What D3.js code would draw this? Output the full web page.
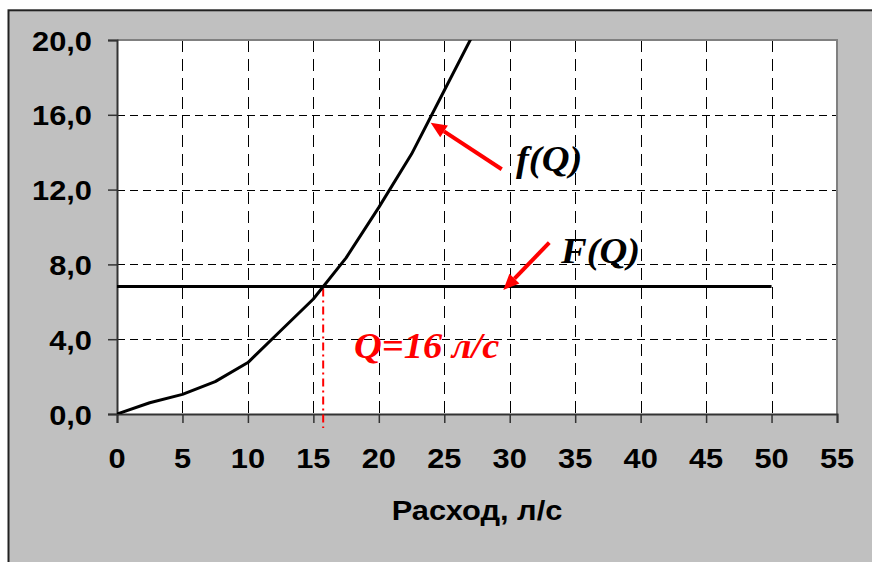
<!DOCTYPE html>
<html><head><meta charset="utf-8">
<script src="https://cdn.jsdelivr.net/npm/d3@7/dist/d3.min.js"></script>
<style>html,body{margin:0;padding:0;background:#fff;}svg{display:block;}</style>
</head><body><svg id="chart" width="872" height="562"></svg>
<script>
// ---- data ----
const flowQ   = [0, 2.5, 5, 7.5, 10, 12.5, 15, 17.5, 20, 22.5, 25, 27.5];
const fValues = [0, 0.6, 1.05, 1.73, 2.75, 4.45, 6.15, 8.35, 11.05, 13.9, 17.3, 20.7];
const FQ      = [0, 50];
const FValues = [6.82, 6.82];
const qStar = 15.75;
const xTicks = [0, 5, 10, 15, 20, 25, 30, 35, 40, 45, 50, 55];
const yTicks = [0, 4, 8, 12, 16, 20];
const yTickLabels = ["0,0", "4,0", "8,0", "12,0", "16,0", "20,0"];
const xTitle = "Расход, л/с";
const labelF1 = "f(Q)", labelF2 = "F(Q)", labelQ = "Q=16 л/с";
// annotation arrows [tailQ, tailV, headQ, headV]
const arrowF1 = [29.39, 13.09, 23.96, 15.58];
const arrowF2 = [33.02, 9.16, 29.51, 6.63];

const svg = d3.select("#chart");
const L = 117, R = 837, T = 40, B = 414;
const x = d3.scaleLinear().domain([0, 55]).range([L, R]);
const y = d3.scaleLinear().domain([0, 20]).range([B, T]);
const SX = 1.1;
const sans = "'Liberation Sans', Arial, sans-serif";
const serif = "'Liberation Serif', 'Times New Roman', serif";

// outer panel
svg.append("rect").attr("x", 8.5).attr("y", 10.3).attr("width", 900).attr("height", 600)
  .attr("fill", "#c0c0c0").attr("stroke", "#222").attr("stroke-width", 2);

// plot area
svg.append("rect").attr("x", L).attr("y", T).attr("width", R - L).attr("height", B - T).attr("fill", "#fff");

// clip
svg.append("defs").append("clipPath").attr("id", "clip")
  .append("rect").attr("x", L).attr("y", T).attr("width", R - L).attr("height", B - T);

// grid
const grid = svg.append("g");
grid.selectAll("line.v").data(xTicks.filter(d => d > 0 && d < 55)).enter().append("line")
  .attr("x1", d => Math.round(x(d)) + 0.5).attr("x2", d => Math.round(x(d)) + 0.5)
  .attr("y1", T).attr("y2", B).attr("stroke", "#000").attr("stroke-width", 1)
  .attr("stroke-dasharray", "12,7");
grid.selectAll("line.h").data(yTicks.filter(d => d > 0 && d < 20)).enter().append("line")
  .attr("y1", d => Math.round(y(d)) + 0.5).attr("y2", d => Math.round(y(d)) + 0.5)
  .attr("x1", L).attr("x2", R).attr("stroke", "#000").attr("stroke-width", 1)
  .attr("stroke-dasharray", "8,5");

// top/right border gray
svg.append("line").attr("x1", L).attr("x2", R + 1).attr("y1", T).attr("y2", T).attr("stroke", "#808080").attr("stroke-width", 2);
svg.append("line").attr("x1", R).attr("x2", R).attr("y1", T).attr("y2", B).attr("stroke", "#808080").attr("stroke-width", 2);

// axes
const xAxis = d3.axisBottom(x).tickValues(xTicks).tickSize(9).tickFormat("");
const yAxis = d3.axisLeft(y).tickValues(yTicks).tickSize(9).tickFormat("");
const gx = svg.append("g").attr("transform", `translate(0,${B})`).call(xAxis);
const gy = svg.append("g").attr("transform", `translate(${L},0)`).call(yAxis);
[gx, gy].forEach(g => {
  g.select(".domain").attr("stroke", "#333").attr("stroke-width", 2);
  g.selectAll(".tick line").attr("stroke", "#333").attr("stroke-width", 1.5);
});

// tick labels
svg.append("g").selectAll("text").data(xTicks).enter().append("text")
  .attr("transform", d => `translate(${x(d)},${B + 54}) scale(${SX},1)`)
  .attr("text-anchor", "middle").attr("font-family", sans).attr("font-weight", "bold")
  .attr("font-size", 28).attr("fill", "#000").text(d => d);
svg.append("g").selectAll("text").data(yTicks).enter().append("text")
  .attr("transform", d => `translate(92,${y(d) + 10.5}) scale(${SX},1)`)
  .attr("text-anchor", "end").attr("font-family", sans).attr("font-weight", "bold")
  .attr("font-size", 28).attr("fill", "#000").text((d, i) => yTickLabels[i]);

// axis title
svg.append("text").attr("transform", `translate(${(L + R) / 2},520) scale(${SX},1)`)
  .attr("text-anchor", "middle").attr("font-family", sans).attr("font-weight", "bold")
  .attr("font-size", 28).attr("fill", "#000").text(xTitle);

// red dash-dot line
svg.append("line").attr("x1", x(qStar)).attr("x2", x(qStar))
  .attr("y1", y(FValues[0]) + 2).attr("y2", y(0) + 14)
  .attr("stroke", "#ff0000").attr("stroke-width", 2).attr("stroke-dasharray", "8,4,2,4");

// series
const line = d3.line().x(d => x(d[0])).y(d => y(d[1]));
svg.append("path").attr("clip-path", "url(#clip)")
  .attr("d", line(flowQ.map((q, i) => [q, fValues[i]])))
  .attr("fill", "none").attr("stroke", "#000").attr("stroke-width", 3).attr("stroke-linejoin", "round");
svg.append("path")
  .attr("d", line(FQ.map((q, i) => [q, FValues[i]])))
  .attr("fill", "none").attr("stroke", "#000").attr("stroke-width", 3);

// arrows
function arrow(a) {
  const x0 = x(a[0]), y0 = y(a[1]), x1 = x(a[2]), y1 = y(a[3]);
  const ang = Math.atan2(y1 - y0, x1 - x0);
  const hl = 16, hw = 7;
  const bx = x1 - hl * Math.cos(ang), by = y1 - hl * Math.sin(ang);
  svg.append("line").attr("x1", x0).attr("y1", y0).attr("x2", bx).attr("y2", by)
    .attr("stroke", "#ff0000").attr("stroke-width", 4);
  const px = -Math.sin(ang) * hw, py = Math.cos(ang) * hw;
  svg.append("path").attr("d", `M${x1},${y1}L${bx + px},${by + py}L${bx - px},${by - py}Z`).attr("fill", "#ff0000");
}
arrow(arrowF1);
arrow(arrowF2);

// labels
svg.append("text").attr("transform", `translate(516,171) scale(${SX},1)`)
  .attr("font-family", serif).attr("font-weight", "bold").attr("font-style", "italic")
  .attr("font-size", 35).attr("fill", "#000").text(labelF1);
svg.append("text").attr("transform", `translate(561,263) scale(${SX},1)`)
  .attr("font-family", serif).attr("font-weight", "bold").attr("font-style", "italic")
  .attr("font-size", 35).attr("fill", "#000").text(labelF2);
svg.append("text").attr("transform", `translate(354,358) scale(${SX},1)`)
  .attr("font-family", serif).attr("font-weight", "bold").attr("font-style", "italic")
  .attr("font-size", 35).attr("fill", "#ff0000").text(labelQ);
</script></body></html>
